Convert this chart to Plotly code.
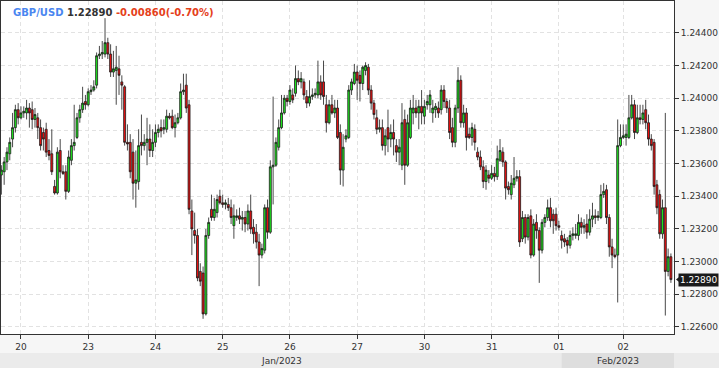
import plotly.graph_objects as go

# ---------------- data (hourly GBP/USD candles) ----------------
symbol = "GBP/USD"
last_price_text = "1.22890"
change_text = "-0.00860(-0.70%)"
tick_labels = ["20", "23", "24", "25", "26", "27", "30", "31", "01", "02"]
tick_index = [7, 31, 55, 79, 103, 127, 151, 175, 199, 222]
month_labels = ["Jan/2023", "Feb/2023"]

open_ = [1.2353, 1.2355, 1.2361, 1.2366, 1.2375, 1.2382, 1.2393, 1.2388, 1.2391, 1.2391,
         1.2394, 1.2393, 1.2387, 1.2388, 1.2382, 1.2379, 1.2381, 1.2368, 1.2366, 1.2346,
         1.2342, 1.2368, 1.2355, 1.2355, 1.2343, 1.2362, 1.2371, 1.2376, 1.2388, 1.2393,
         1.2398, 1.2396, 1.2404, 1.2405, 1.2408, 1.2426, 1.2427, 1.2427, 1.2434, 1.2427,
         1.2416, 1.2417, 1.2418, 1.2410, 1.2407, 1.2373, 1.2373, 1.2367, 1.2348, 1.2349,
         1.2373, 1.2371, 1.2373, 1.2375, 1.2368, 1.2373, 1.2379, 1.2382, 1.2381, 1.2381,
         1.2389, 1.2389, 1.2382, 1.2385, 1.2388, 1.2404, 1.2408, 1.2396, 1.2331, 1.2319,
         1.2316, 1.2294, 1.2293, 1.2268, 1.2316, 1.2332, 1.2327, 1.2330, 1.2340, 1.2336,
         1.2335, 1.2335, 1.2333, 1.2322, 1.2327, 1.2328, 1.2326, 1.2327, 1.2323, 1.2331,
         1.2321, 1.2318, 1.2312, 1.2304, 1.2307, 1.2333, 1.2318, 1.2358, 1.2359, 1.2370,
         1.2382, 1.2391, 1.2400, 1.2398, 1.2402, 1.2403, 1.2412, 1.2410, 1.2410, 1.2401,
         1.2397, 1.2401, 1.2402, 1.2402, 1.2410, 1.2410, 1.2396, 1.2385, 1.2396, 1.2391,
         1.2394, 1.2379, 1.2356, 1.2375, 1.2376, 1.2405, 1.2409, 1.2416, 1.2414, 1.2409,
         1.2417, 1.2419, 1.2405, 1.2397, 1.2388, 1.2381, 1.2382, 1.2371, 1.2382, 1.2375,
         1.2379, 1.2371, 1.2367, 1.2359, 1.2387, 1.2359, 1.2376, 1.2391, 1.2394, 1.2391,
         1.2395, 1.2389, 1.2396, 1.2396, 1.2391, 1.2393, 1.2394, 1.2393, 1.2405, 1.2398,
         1.2394, 1.2382, 1.2373, 1.2394, 1.2411, 1.2385, 1.2391, 1.2378, 1.2376, 1.2381,
         1.2367, 1.2364, 1.2358, 1.2349, 1.2353, 1.2351, 1.2354, 1.2352, 1.2362, 1.2367,
         1.2361, 1.2346, 1.2341, 1.2347, 1.2351, 1.2352, 1.2314, 1.2327, 1.2315, 1.2328,
         1.2304, 1.2324, 1.2319, 1.2307, 1.2324, 1.2327, 1.2333, 1.2329, 1.2329, 1.2322,
         1.2316, 1.2314, 1.2313, 1.2310, 1.2316, 1.2316, 1.2316, 1.2324, 1.2321, 1.2323,
         1.2318, 1.2326, 1.2328, 1.2327, 1.2327, 1.2341, 1.2344, 1.2327, 1.2309, 1.2304,
         1.2304, 1.2371, 1.2376, 1.2376, 1.2376, 1.2388, 1.2396, 1.2379, 1.2388, 1.2387,
         1.2393, 1.2385, 1.2375, 1.2373, 1.2347, 1.2341, 1.2317, 1.2333, 1.2294, 1.2303]

high = [1.2359, 1.2364, 1.2370, 1.2376, 1.2391, 1.2396, 1.2397, 1.2395, 1.2395, 1.2399,
        1.2397, 1.2398, 1.2394, 1.2391, 1.2387, 1.2382, 1.2385, 1.2375, 1.2381, 1.2350,
        1.2370, 1.2375, 1.2359, 1.2359, 1.2368, 1.2375, 1.2396, 1.2391, 1.2396, 1.2407,
        1.2402, 1.2406, 1.2408, 1.2411, 1.2428, 1.2432, 1.2435, 1.2449, 1.2437, 1.2433,
        1.2429, 1.2432, 1.2426, 1.2414, 1.2408, 1.2384, 1.2378, 1.2375, 1.2368, 1.2381,
        1.2390, 1.2378, 1.2388, 1.2384, 1.2381, 1.2384, 1.2384, 1.2387, 1.2387, 1.2393,
        1.2391, 1.2393, 1.2390, 1.2391, 1.2409, 1.2415, 1.2415, 1.2399, 1.2338, 1.2330,
        1.2320, 1.2299, 1.2297, 1.2320, 1.2327, 1.2341, 1.2339, 1.2341, 1.2344, 1.2341,
        1.2338, 1.2339, 1.2338, 1.2335, 1.2332, 1.2333, 1.2331, 1.2331, 1.2335, 1.2341,
        1.2326, 1.2323, 1.2317, 1.2311, 1.2335, 1.2338, 1.2362, 1.2401, 1.2376, 1.2387,
        1.2402, 1.2402, 1.2402, 1.2408, 1.2406, 1.2420, 1.2417, 1.2416, 1.2412, 1.2405,
        1.2411, 1.2406, 1.2406, 1.2423, 1.2414, 1.2423, 1.2402, 1.2399, 1.2402, 1.2399,
        1.2399, 1.2384, 1.2378, 1.2381, 1.2408, 1.2412, 1.2421, 1.2420, 1.2417, 1.2420,
        1.2422, 1.2421, 1.2408, 1.2399, 1.2393, 1.2387, 1.2387, 1.2381, 1.2393, 1.2384,
        1.2387, 1.2375, 1.2375, 1.2397, 1.2393, 1.2390, 1.2399, 1.2402, 1.2399, 1.2399,
        1.2405, 1.2399, 1.2402, 1.2405, 1.2399, 1.2397, 1.2398, 1.2408, 1.2408, 1.2400,
        1.2399, 1.2388, 1.2396, 1.2419, 1.2414, 1.2396, 1.2394, 1.2382, 1.2385, 1.2384,
        1.2370, 1.2368, 1.2362, 1.2359, 1.2356, 1.2359, 1.2358, 1.2371, 1.2375, 1.2370,
        1.2362, 1.2349, 1.2353, 1.2364, 1.2356, 1.2356, 1.2331, 1.2329, 1.2329, 1.2332,
        1.2326, 1.2329, 1.2321, 1.2326, 1.2329, 1.2338, 1.2339, 1.2332, 1.2333, 1.2325,
        1.2319, 1.2317, 1.2315, 1.2319, 1.2321, 1.2323, 1.2329, 1.2327, 1.2326, 1.2329,
        1.2332, 1.2336, 1.2332, 1.2331, 1.2347, 1.2348, 1.2347, 1.2329, 1.2314, 1.2308,
        1.2387, 1.2384, 1.2384, 1.2384, 1.2402, 1.2402, 1.2399, 1.2396, 1.2396, 1.2396,
        1.2399, 1.2390, 1.2378, 1.2375, 1.2350, 1.2344, 1.2338, 1.2391, 1.2308, 1.2305]

low = [1.2341, 1.2347, 1.2356, 1.2362, 1.2370, 1.2379, 1.2384, 1.2387, 1.2388, 1.2387,
       1.2382, 1.2381, 1.2382, 1.2375, 1.2368, 1.2368, 1.2364, 1.2362, 1.2353, 1.2341,
       1.2341, 1.2351, 1.2353, 1.2338, 1.2342, 1.2359, 1.2368, 1.2375, 1.2385, 1.2391,
       1.2393, 1.2395, 1.2402, 1.2404, 1.2406, 1.2424, 1.2424, 1.2425, 1.2424, 1.2413,
       1.2413, 1.2396, 1.2402, 1.2393, 1.2371, 1.2368, 1.2351, 1.2338, 1.2333, 1.2344,
       1.2365, 1.2368, 1.2359, 1.2364, 1.2364, 1.2370, 1.2376, 1.2376, 1.2378, 1.2379,
       1.2387, 1.2381, 1.2376, 1.2384, 1.2387, 1.2402, 1.2391, 1.2329, 1.2304, 1.2311,
       1.2288, 1.2285, 1.2265, 1.2267, 1.2314, 1.2325, 1.2325, 1.2327, 1.2335, 1.2333,
       1.2332, 1.2331, 1.2323, 1.2314, 1.2325, 1.2323, 1.2319, 1.2318, 1.2319, 1.2317,
       1.2311, 1.2308, 1.2285, 1.2302, 1.2305, 1.2314, 1.2317, 1.2335, 1.2358, 1.2368,
       1.2381, 1.2390, 1.2395, 1.2396, 1.2397, 1.2401, 1.2408, 1.2406, 1.2399, 1.2394,
       1.2395, 1.2399, 1.2400, 1.2400, 1.2399, 1.2396, 1.2379, 1.2384, 1.2390, 1.2388,
       1.2375, 1.2347, 1.2346, 1.2373, 1.2375, 1.2402, 1.2408, 1.2399, 1.2398, 1.2405,
       1.2414, 1.2402, 1.2393, 1.2387, 1.2378, 1.2379, 1.2368, 1.2365, 1.2367, 1.2370,
       1.2365, 1.2361, 1.2359, 1.2356, 1.2347, 1.2358, 1.2375, 1.2384, 1.2388, 1.2381,
       1.2384, 1.2384, 1.2393, 1.2391, 1.2385, 1.2388, 1.2388, 1.2390, 1.2394, 1.2391,
       1.2375, 1.2370, 1.2370, 1.2391, 1.2382, 1.2382, 1.2368, 1.2375, 1.2371, 1.2368,
       1.2362, 1.2356, 1.2345, 1.2344, 1.2348, 1.2350, 1.2349, 1.2350, 1.2361, 1.2358,
       1.2338, 1.2341, 1.2338, 1.2345, 1.2349, 1.2309, 1.2312, 1.2311, 1.2313, 1.2302,
       1.2303, 1.2314, 1.2287, 1.2305, 1.2321, 1.2325, 1.2321, 1.2317, 1.2319, 1.2319,
       1.2308, 1.2309, 1.2305, 1.2308, 1.2313, 1.2314, 1.2313, 1.2317, 1.2317, 1.2314,
       1.2316, 1.2321, 1.2323, 1.2325, 1.2326, 1.2339, 1.2323, 1.2303, 1.2296, 1.2302,
       1.2275, 1.2370, 1.2375, 1.2371, 1.2375, 1.2387, 1.2375, 1.2378, 1.2384, 1.2384,
       1.2381, 1.2371, 1.2368, 1.2341, 1.2329, 1.2314, 1.2314, 1.2267, 1.2291, 1.2287]

close = [1.2356, 1.2361, 1.2367, 1.2373, 1.2382, 1.2393, 1.2388, 1.2391, 1.2392, 1.2394,
         1.2391, 1.2387, 1.2390, 1.2382, 1.2371, 1.2375, 1.2367, 1.2365, 1.2355, 1.2342,
         1.2367, 1.2355, 1.2354, 1.2343, 1.2364, 1.2371, 1.2373, 1.2388, 1.2393, 1.2397,
         1.2396, 1.2404, 1.2405, 1.2407, 1.2426, 1.2427, 1.2428, 1.2434, 1.2427, 1.2416,
         1.2418, 1.2419, 1.2414, 1.2408, 1.2373, 1.2372, 1.2355, 1.2348, 1.2350, 1.2371,
         1.2371, 1.2373, 1.2375, 1.2368, 1.2373, 1.2379, 1.2381, 1.2380, 1.2382, 1.2389,
         1.2388, 1.2382, 1.2385, 1.2388, 1.2404, 1.2405, 1.2394, 1.2332, 1.2320, 1.2316,
         1.2290, 1.2288, 1.2268, 1.2316, 1.2324, 1.2327, 1.2332, 1.2338, 1.2336, 1.2335,
         1.2336, 1.2333, 1.2327, 1.2328, 1.2328, 1.2326, 1.2327, 1.2323, 1.2331, 1.2320,
         1.2317, 1.2312, 1.2304, 1.2308, 1.2333, 1.2318, 1.2358, 1.2359, 1.2373, 1.2382,
         1.2391, 1.2400, 1.2398, 1.2405, 1.2399, 1.2412, 1.2410, 1.2412, 1.2402, 1.2397,
         1.2401, 1.2402, 1.2403, 1.2410, 1.2402, 1.2401, 1.2385, 1.2396, 1.2391, 1.2394,
         1.2376, 1.2356, 1.2370, 1.2377, 1.2405, 1.2410, 1.2416, 1.2411, 1.2409, 1.2419,
         1.2420, 1.2405, 1.2397, 1.2390, 1.2381, 1.2382, 1.2371, 1.2377, 1.2375, 1.2379,
         1.2375, 1.2367, 1.2370, 1.2385, 1.2359, 1.2385, 1.2394, 1.2394, 1.2391, 1.2395,
         1.2391, 1.2395, 1.2398, 1.2402, 1.2394, 1.2395, 1.2391, 1.2405, 1.2398, 1.2394,
         1.2379, 1.2373, 1.2394, 1.2411, 1.2385, 1.2391, 1.2376, 1.2376, 1.2382, 1.2373,
         1.2364, 1.2358, 1.2349, 1.2356, 1.2351, 1.2354, 1.2352, 1.2363, 1.2368, 1.2361,
         1.2345, 1.2344, 1.2348, 1.2351, 1.2352, 1.2312, 1.2327, 1.2315, 1.2327, 1.2304,
         1.2323, 1.2319, 1.2307, 1.2324, 1.2327, 1.2333, 1.2325, 1.2325, 1.2322, 1.2321,
         1.2313, 1.2312, 1.2310, 1.2316, 1.2317, 1.2317, 1.2324, 1.2321, 1.2322, 1.2318,
         1.2326, 1.2328, 1.2327, 1.2328, 1.2341, 1.2343, 1.2327, 1.2309, 1.2304, 1.2303,
         1.2371, 1.2376, 1.2377, 1.2378, 1.2388, 1.2396, 1.2379, 1.2388, 1.2387, 1.2391,
         1.2385, 1.2375, 1.2371, 1.2346, 1.2333, 1.2317, 1.2333, 1.2294, 1.2303, 1.2289]

# ---------------- figure ----------------
N = len(close)
x = list(range(N))
x_range = [-0.13, 240.1]
y_range = [1.22557, 1.24595]

fig = go.Figure(go.Candlestick(
    x=x, open=open_, high=high, low=low, close=close,
    increasing=dict(line=dict(color="#1a1a1a", width=0.8), fillcolor="#1ee81e"),
    decreasing=dict(line=dict(color="#1a1a1a", width=0.8), fillcolor="#f01010"),
    whiskerwidth=0, hoverinfo="skip", showlegend=False,
))

W, H = 719, 368
ml, mr, mt, mb = 1, 45, 1, 34
pw, ph = W - ml - mr, H - mt - mb


def px_x(p):  # pixel -> paper x
    return (p - ml) / pw


def px_y(p):  # pixel -> paper y
    return (H - mb - p) / ph


def idx_to_paper(i):
    return (i - x_range[0]) / (x_range[1] - x_range[0])


feb_start = idx_to_paper(tick_index[8] + 1)
shapes = [
    dict(type="rect", xref="paper", yref="paper", x0=px_x(0), x1=px_x(W),
         y0=px_y(353), y1=px_y(368), fillcolor="#ebebeb", line=dict(width=0), layer="below"),
    dict(type="rect", xref="paper", yref="paper", x0=feb_start, x1=1.0,
         y0=px_y(353), y1=px_y(368), fillcolor="#dedede", line=dict(width=0), layer="below"),
]

# last-price marker triangle
d = 4 * (y_range[1] - y_range[0]) / ph
yc = close[-1]
shapes.append(dict(type="path", xref="paper", yref="y",
                   path=f"M {px_x(676)},{yc} L {px_x(681)},{yc + d} L {px_x(681)},{yc - d} Z",
                   fillcolor="#1a1a1a", line=dict(width=0)))

annotations = [
    dict(xref="paper", yref="paper", x=px_x(11), y=px_y(12), xanchor="left", yanchor="middle",
         showarrow=False,
         text=(f"<b><span style='color:#4a86f0'>{symbol}</span> "
               f"<span style='color:#333333'>{last_price_text}</span> "
               f"<span style='color:#e5401a'>{change_text}</span></b>"),
         font=dict(family="DejaVu Sans", size=10)),
    dict(xref="paper", yref="paper", x=feb_start / 2, y=px_y(361), xanchor="center",
         yanchor="middle", showarrow=False, text=month_labels[0],
         font=dict(family="DejaVu Sans", size=9, color="#333")),
    dict(xref="paper", yref="paper", x=(feb_start + 1.0) / 2, y=px_y(361), xanchor="center",
         yanchor="middle", showarrow=False, text=month_labels[1],
         font=dict(family="DejaVu Sans", size=9, color="#333")),
    dict(xref="paper", yref="y", x=px_x(W), y=yc, xanchor="right", yanchor="middle",
         showarrow=False, text=last_price_text, bgcolor="#1a1a1a", borderpad=1,
         font=dict(family="DejaVu Sans", size=9, color="white")),
]

fig.update_layout(
    width=W, height=H,
    margin=dict(l=ml, r=mr, t=mt, b=mb),
    paper_bgcolor="#f6f6f6", plot_bgcolor="white",
    font=dict(family="DejaVu Sans", size=9, color="#333"),
    showlegend=False,
    boxgap=0,
    shapes=shapes, annotations=annotations,
    xaxis=dict(range=x_range, tickmode="array", tickvals=tick_index, ticktext=tick_labels,
               showgrid=True, gridcolor="#e2e2e2", griddash="4px,3px", gridwidth=1,
               showline=True, mirror=True, linecolor="#333", linewidth=1,
               ticks="outside", ticklen=4, tickcolor="#333", zeroline=False,
               rangeslider=dict(visible=False), fixedrange=True),
    yaxis=dict(side="right", range=y_range, tick0=1.226, dtick=0.002, tickformat=".5f",
               showgrid=True, gridcolor="#e2e2e2", griddash="4px,3px", gridwidth=1,
               showline=True, mirror=True, linecolor="#333", linewidth=1,
               ticks="outside", ticklen=4, tickcolor="#333", zeroline=False, fixedrange=True),
)

fig.write_html("out.html")
